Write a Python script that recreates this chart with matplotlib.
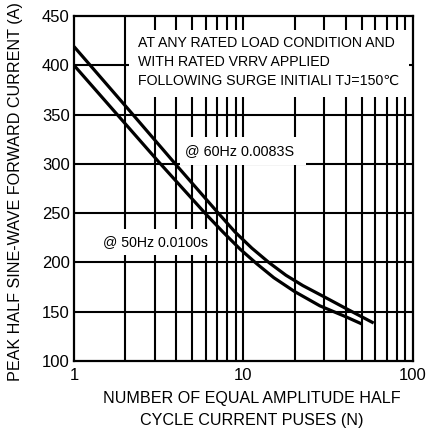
"""Surge current derating curve."""

import matplotlib
matplotlib.use('Agg')
import matplotlib.pyplot as plt

plt.rcParams['font.family'] = ['Liberation Sans', 'DejaVu Sans']

# data
n_60hz = [1, 2.16, 4.05, 7.1, 8.9, 11.2, 14.1, 17.8, 22.4, 30, 40, 58.6]
i_60hz = [419, 352.6, 298, 250, 231, 214.5, 200, 187, 176.5, 165, 153.5, 138.5]
n_50hz = [1, 3.16, 6.0, 7.6, 9.55, 12.0, 15.1, 20, 28.2, 40, 50]
i_50hz = [400, 302, 249, 230.5, 213.5, 198.5, 184.5, 170.5, 156, 145, 137.5]

y_ticks = [100, 150, 200, 250, 300, 350, 400, 450]
x_ticks = [1, 10, 100]
x_ticklabels = ['1', '10', '100']

note_lines = ['AT ANY RATED LOAD CONDITION AND',
              'WITH RATED VRRV APPLIED',
              'FOLLOWING SURGE INITIALI TJ=150\u2103']
label_60 = '@ 60Hz 0.0083S'
label_50 = '@ 50Hz 0.0100s'

# figure
fig = plt.figure(figsize=(4.27, 4.30), dpi=100)
ax = fig.add_axes([74 / 427, 1 - 361 / 430, 339 / 427, 345 / 430])

ax.set_xscale('log')
ax.set_xlim(1, 100)
ax.set_ylim(100, 450)

# grid
minor = [m * d for d in (1, 10) for m in range(2, 10)]
for x in minor + [10]:
    ax.axvline(x, color='k', lw=1.5, zorder=1)
for y in y_ticks[1:-1]:
    ax.axhline(y, color='k', lw=1.5, zorder=1)

# curves
ax.plot(n_60hz, i_60hz, color='k', lw=2.3, zorder=3, solid_capstyle='butt')
ax.plot(n_50hz, i_50hz, color='k', lw=2.3, zorder=3, solid_capstyle='butt')

# overlay in pixel coords for the white label boxes
bg = fig.add_axes([0, 0, 1, 1], frameon=False)
bg.set_xlim(0, 427)
bg.set_ylim(430, 0)
bg.axis('off')
bg.add_patch(plt.Rectangle((129, 30), 280, 67, facecolor='white', edgecolor='none'))
bg.add_patch(plt.Rectangle((180, 137), 126, 28, facecolor='white', edgecolor='none'))
bg.add_patch(plt.Rectangle((98, 229), 114, 26, facecolor='white', edgecolor='none'))

for k, line in enumerate(note_lines):
    bg.text(138, 43 + k * 19, line, fontsize=10.2, va='center', ha='left')
bg.text(185, 151, label_60, fontsize=10.4, va='center', ha='left')
bg.text(103, 242, label_50, fontsize=10.2, va='center', ha='left')

# spines and ticks
for s in ax.spines.values():
    s.set_linewidth(1.6)
ax.set_yticks(y_ticks)
ax.set_xticks(x_ticks)
ax.set_xticklabels(x_ticklabels)
ax.xaxis.set_minor_locator(matplotlib.ticker.NullLocator())
ax.tick_params(length=0, labelsize=12, pad=3)
ax.tick_params(axis='x', pad=5)

bg.text(16, 192, 'PEAK HALF SINE-WAVE FORWARD CURRENT (A)',
        rotation=90, ha='center', va='center', fontsize=11.6)
bg.text(252, 398, 'NUMBER OF EQUAL AMPLITUDE HALF',
        ha='center', va='center', fontsize=11.6)
bg.text(252, 420, 'CYCLE CURRENT PUSES (N)',
        ha='center', va='center', fontsize=11.6)

fig.savefig('out.png', dpi=100)
